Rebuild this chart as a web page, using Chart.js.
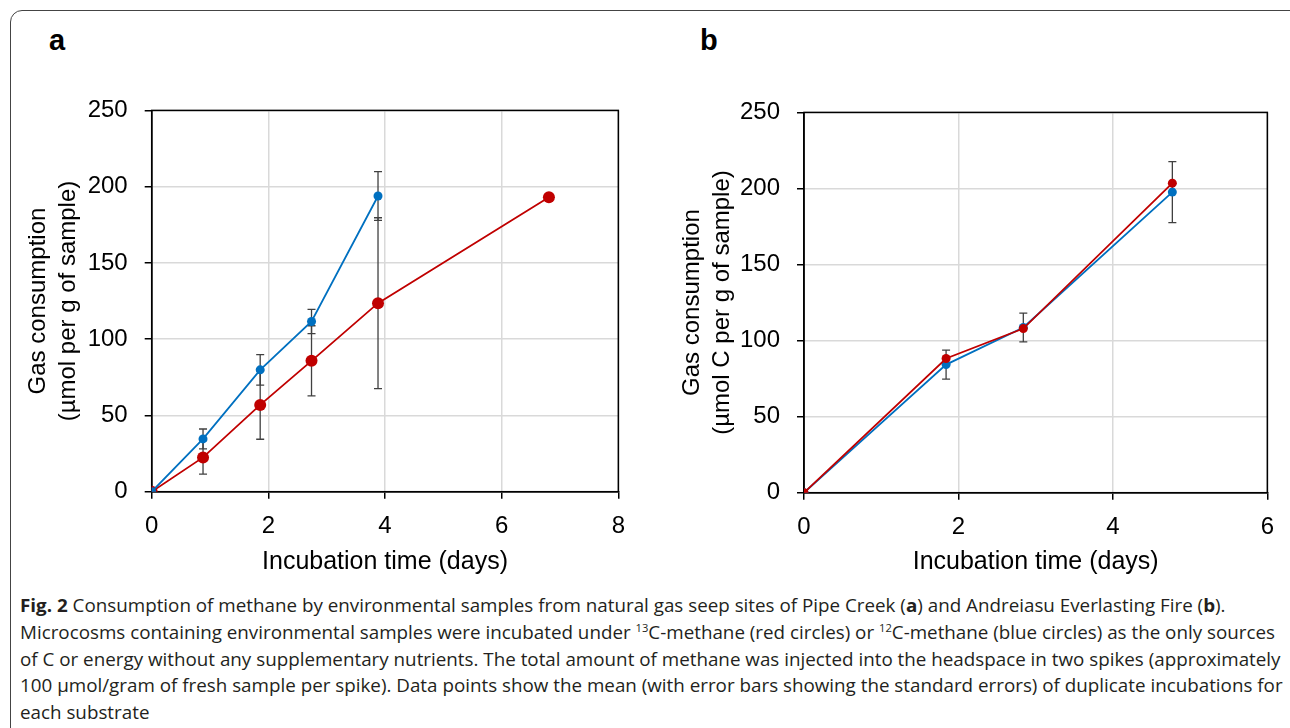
<!DOCTYPE html>
<html>
<head>
<meta charset="utf-8">
<script src="https://cdn.jsdelivr.net/npm/chart.js@4.4.1/dist/chart.umd.min.js"></script>
<style>
  html, body { margin: 0; padding: 0; background: #fff; }
  body { width: 1290px; height: 728px; position: relative; overflow: hidden; font-family: "Liberation Sans", Arial, sans-serif; }
  .frame { position: absolute; left: 10px; top: 10px; width: 1310px; height: 760px; border: 1.5px solid #444; border-radius: 12px; box-sizing: border-box; }
  .panel-label { position: absolute; top: 24px; font: bold 29px "Liberation Sans", Arial, sans-serif; color: #000; }
  .chart-box { position: absolute; }
  #caption { position: absolute; left: 20px; top: 592px; font-family: "Liberation Sans Narrow", "Open Sans", sans-serif; font-size: 18.5px; line-height: 26.75px; color: #231f20; white-space: nowrap; transform-origin: 0 0; }
  #caption sup { font-size: 11px; line-height: 0; vertical-align: 7px; }
</style>
</head>
<body>
<div class="frame"></div>
<div class="panel-label" style="left:49px">a</div>
<div class="panel-label" style="left:700px">b</div>

<div class="chart-box" style="left:14px; top:79px; width:624px; height:511px;"><canvas id="chartA"></canvas></div>
<div class="chart-box" style="left:668px; top:81px; width:619px; height:509px;"><canvas id="chartB"></canvas></div>

<div id="caption">
  <div id="capLine1"><b>Fig. 2</b> Consumption of methane by environmental samples from natural gas seep sites of Pipe Creek (<b>a</b>) and Andreiasu Everlasting Fire (<b>b</b>).</div>
  <div id="capLine2">Microcosms containing environmental samples were incubated under <sup>13</sup>C-methane (red circles) or <sup>12</sup>C-methane (blue circles) as the only sources</div>
  <div>of C or energy without any supplementary nutrients. The total amount of methane was injected into the headspace in two spikes (approximately</div>
  <div>100 µmol/gram of fresh sample per spike). Data points show the mean (with error bars showing the standard errors) of duplicate incubations for</div>
  <div>each substrate</div>
</div>

<script>
// Panel a - Pipe Creek
const daysBlueA = [0, 0.88, 1.86, 2.74, 3.88];
const gasBlueA  = [0, 34.6, 79.9, 111.6, 193.9];
const errBlueA  = [0, 6.5, 10, 8, 16];
const daysRedA  = [0, 0.88, 1.86, 2.74, 3.88, 6.81];
const gasRedA   = [0, 22.5, 56.9, 85.8, 123.6, 193.0];
const errRedA   = [0, 11, 22.5, 23, 56, 0];

// Panel b - Andreiasu Everlasting Fire
const daysB    = [0, 1.84, 2.84, 4.77];
const gasBlueB = [0, 84.2, 108.6, 197.6];
const errBlueB = [0, 9.5, 9.5, 20];
const gasRedB  = [0, 88.2, 107.9, 203.5];
const errRedB  = [0, 0, 0, 0];

const xMaxA = 8, xMaxB = 6, xStep = 2;
const yMax = 250, yStep = 50;
const xTitle = 'Incubation time (days)';
const yTitleA = ['Gas consumption', '(µmol per g of sample)'];
const yTitleB = ['Gas consumption', '(µmol C per g of sample)'];

const BLUE = '#0070c0';
const RED = '#c00000';

const toPoints = (xs, ys) => xs.map((x, i) => ({ x: x, y: ys[i] }));

// error bars + black box around the plot area
const errorBarPlugin = {
  id: 'errorBars',
  beforeDatasetsDraw(chart) {
    const ctx = chart.ctx;
    const xs = chart.scales.x, ys = chart.scales.y;
    const area = chart.chartArea;
    ctx.save();
    ctx.strokeStyle = '#000';
    ctx.lineWidth = 1.5;
    ctx.strokeRect(area.left, area.top, area.right - area.left, area.bottom - area.top);
    ctx.strokeStyle = '#404040';
    ctx.lineWidth = 1.3;
    chart.data.datasets.forEach(ds => {
      (ds.errors || []).forEach((e, i) => {
        if (!e) return;
        const p = ds.data[i];
        const px = xs.getPixelForValue(p.x);
        const top = ys.getPixelForValue(p.y + e);
        const bot = ys.getPixelForValue(p.y - e);
        ctx.beginPath();
        ctx.moveTo(px, top); ctx.lineTo(px, bot);
        ctx.moveTo(px - 4, top); ctx.lineTo(px + 4, top);
        ctx.moveTo(px - 4, bot); ctx.lineTo(px + 4, bot);
        ctx.stroke();
      });
    });
    ctx.restore();
  }
};

function buildChart(id, datasets, xMax, yTitle, yWidth, xHeight) {
  return new Chart(document.getElementById(id), {
    type: 'line',
    data: { datasets: datasets },
    options: {
      responsive: true,
      maintainAspectRatio: false,
      animation: false,
      layout: { padding: 0 },
      plugins: { legend: { display: false }, tooltip: { enabled: false } },
      scales: {
        x: {
          type: 'linear', min: 0, max: xMax,
          ticks: { stepSize: xStep, color: '#000', padding: 13, font: { family: 'Liberation Sans', size: 24 } },
          grid: { color: '#d9d9d9', lineWidth: 1.5, tickColor: '#000', tickLength: 7, tickWidth: 1.5 },
          border: { color: '#000', width: 1.5 },
          title: { display: true, text: xTitle, color: '#000', padding: { top: 0, bottom: 13 },
                   font: { family: 'Liberation Sans', size: 25, lineHeight: 1.2 } },
          afterFit: s => { s.height = xHeight; }
        },
        y: {
          min: 0, max: yMax,
          ticks: { stepSize: yStep, color: '#000', padding: 17, font: { family: 'Liberation Sans', size: 24 } },
          grid: { color: '#d9d9d9', lineWidth: 1.5, tickColor: '#000', tickLength: 7, tickWidth: 1.5 },
          border: { color: '#000', width: 1.5 },
          title: { display: true, text: yTitle, color: '#000', padding: { top: 9, bottom: 0 },
                   font: { family: 'Liberation Sans', size: 24, lineHeight: 1.25 } },
          afterFit: s => { s.width = yWidth; }
        }
      }
    },
    plugins: [errorBarPlugin]
  });
}

// panel a: blue drawn on top
buildChart('chartA', [
  { label: '12C-methane', data: toPoints(daysBlueA, gasBlueA), errors: errBlueA,
    borderColor: BLUE, backgroundColor: BLUE, borderWidth: 1.8, pointRadius: 4.5, pointBorderWidth: 0 },
  { label: '13C-methane', data: toPoints(daysRedA, gasRedA), errors: errRedA,
    borderColor: RED, backgroundColor: RED, borderWidth: 1.8, pointRadius: 6, pointBorderWidth: 0 }
], xMaxA, yTitleA, 137.7, 98.3);

// panel b: red drawn on top
buildChart('chartB', [
  { label: '13C-methane', data: toPoints(daysB, gasRedB), errors: errRedB,
    borderColor: RED, backgroundColor: RED, borderWidth: 1.8, pointRadius: 4.5, pointBorderWidth: 0 },
  { label: '12C-methane', data: toPoints(daysB, gasBlueB), errors: errBlueB,
    borderColor: BLUE, backgroundColor: BLUE, borderWidth: 1.8, pointRadius: 4.5, pointBorderWidth: 0 }
], xMaxB, yTitleB, 136, 97.3);

// squeeze the caption so the long line ends where it does in the figure
const cap = document.getElementById('caption');
const line2 = document.getElementById('capLine2');
const natural = line2.scrollWidth;
cap.style.transform = 'scaleX(' + (1263 / natural) + ')';
</script>
</body>
</html>
